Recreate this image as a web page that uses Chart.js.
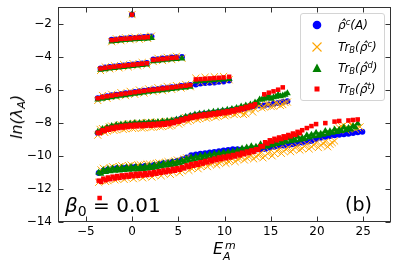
<!DOCTYPE html>
<html><head><meta charset="utf-8">
<script src="https://cdn.jsdelivr.net/npm/chart.js@4"></script>
<style>
html,body{margin:0;padding:0;background:#fff;}
#wrap{position:relative;width:398px;height:269px;font-family:"DejaVu Sans",sans-serif;overflow:hidden;}
#c{position:absolute;left:0;top:0;width:398px;height:269px;}
.ov{position:absolute;white-space:nowrap;color:#000;font-family:"DejaVu Sans",sans-serif;}
sup,sub{font-size:0.7em;line-height:0;}
sup{vertical-align:0.5em;} sub{vertical-align:-0.25em;}
#legend{position:absolute;left:300px;top:13px;width:85px;height:88px;border:1px solid #d4d4d4;border-radius:3px;background:rgba(255,255,255,0.8);box-sizing:border-box;}
.row{position:absolute;left:0;width:84px;height:20px;}
.mk{position:absolute;left:10px;top:4px;width:12px;height:12px;}
.lt{position:absolute;left:37px;top:0px;font-style:italic;font-size:12px;line-height:20px;font-family:"DejaVu Sans",sans-serif;white-space:nowrap;}
</style></head>
<body>
<div id="wrap">
<canvas id="c" width="398" height="269"></canvas>
<div id="legend">
 <div class="row" style="top:1px"><svg class="mk" viewBox="0 0 12 12"><circle cx="6" cy="6" r="4.3" fill="#0000ff"/></svg><span class="lt">ρ̂<sup>c</sup>(A)</span></div>
 <div class="row" style="top:23px"><svg class="mk" viewBox="0 0 12 12"><path d="M1.5 1.5L10.5 10.5M10.5 1.5L1.5 10.5" stroke="#ffa500" stroke-width="1.1"/></svg><span class="lt">Tr<sub>B</sub>(ρ̂<sup>c</sup>)</span></div>
 <div class="row" style="top:44px"><svg class="mk" viewBox="0 0 12 12"><polygon points="6,1.5 10.5,10 1.5,10" fill="#008000"/></svg><span class="lt">Tr<sub>B</sub>(ρ̂<sup>d</sup>)</span></div>
 <div class="row" style="top:65px"><svg class="mk" viewBox="0 0 12 12"><rect x="3.5" y="3.5" width="5" height="5" fill="#ff0000"/></svg><span class="lt">Tr<sub>B</sub>(ρ̂<sup>t</sup>)</span></div>
</div>
<div class="ov" style="left:65px;top:195px;font-size:20px;line-height:20px;"><i>β</i><sub style="font-size:0.7em">0</sub> = 0.01</div>
<div class="ov" style="left:345px;top:195px;font-size:19px;line-height:19px;">(b)</div>
<div class="ov" style="left:213px;top:241px;font-size:16px;line-height:16px;font-style:italic;">E</div>
<div class="ov" style="left:225px;top:240px;font-size:11px;line-height:11px;font-style:italic;">m</div>
<div class="ov" style="left:223px;top:251px;font-size:11px;line-height:11px;font-style:italic;">A</div>
<div class="ov" style="left:17px;top:117px;font-size:16px;line-height:16px;font-style:italic;transform:translate(-50%,-50%) rotate(-90deg);">ln(λ<sub>A</sub>)</div>
</div>
<script>
// ---- data ----
const band0X = [0];
const band0Y = [-1.46];

const band1X = [-2.2,-1.7,-1.2,-0.7,-0.2,0.3,0.8,1.3,1.7,2.1];
const b1Blue = [-2.98,-2.97,-2.92,-2.90,-2.88,-2.88,-2.84,-2.82,-2.80,-2.79];
const b1Orange = [-3.10,-2.92,-3.04,-2.86,-2.98,-2.82,-2.95,-2.80,-2.90,-2.76];
const b1Green = [-3.08,-3.05,-3.02,-3.00,-2.98,-2.95,-2.93,-2.92,-2.90,-2.88];
const b1Red = [-3.00,-2.97,-2.93,-2.92,-2.90,-2.87,-2.85,-2.84,-2.82,null];

const band2X = [-3.4,-2.9,-2.4,-1.9,-1.4,-0.9,-0.4,0.1,0.6,1.1,1.6,2.3,2.8,3.3,3.8,4.3,4.8,5.4];
const b2Blue = [-4.72,-4.66,-4.63,-4.60,-4.56,-4.54,-4.50,-4.48,-4.44,-4.42,-4.38,-4.18,-4.16,-4.12,-4.10,-4.06,-4.04,-4.02];
const b2Orange = [-4.84,-4.62,-4.74,-4.55,-4.68,-4.48,-4.62,-4.42,-4.56,-4.36,-4.50,-4.30,-4.10,-4.24,-4.04,-4.18,-3.98,-4.10];
const b2Green = [-4.80,-4.76,-4.72,-4.69,-4.66,-4.63,-4.60,-4.57,-4.54,-4.51,-4.48,-4.28,-4.25,-4.22,-4.19,-4.16,-4.14,-4.12];
const b2Red = [-4.72,-4.68,-4.64,-4.61,-4.58,-4.55,-4.52,-4.49,-4.46,-4.43,-4.40,-4.20,-4.17,-4.14,-4.11,-4.08,-4.06,null];

const band3X = [-3.7,-3.2,-2.7,-2.2,-1.7,-1.2,-0.7,-0.2,0.3,0.8,1.3,1.8,2.3,2.8,3.3,3.8,4.3,4.8,5.3,5.8,6.3,6.9,7.4,7.9,8.4,8.9,9.4,9.9,10.5];
const b3Blue = [-6.52,-6.44,-6.40,-6.34,-6.30,-6.26,-6.22,-6.18,-6.14,-6.10,-6.06,-6.02,-5.99,-5.96,-5.92,-5.88,-5.85,-5.82,-5.78,-5.75,-5.72,-5.68,-5.62,-5.60,-5.58,-5.56,-5.52,-5.50,-5.45];
const b3Orange = [-6.65,-6.35,-6.52,-6.28,-6.42,-6.18,-6.36,-6.10,-6.28,-6.02,-6.20,-5.95,-6.12,-5.88,-6.06,-5.80,-5.98,-5.75,-5.90,-5.68,-5.82,-5.30,-5.55,-5.25,-5.50,-5.22,-5.46,-5.20,-5.40];
const b3Green = [-6.60,-6.55,-6.50,-6.46,-6.41,-6.37,-6.33,-6.29,-6.25,-6.21,-6.17,-6.13,-6.10,-6.07,-6.03,-6.00,-5.96,-5.93,-5.89,-5.86,-5.82,-5.50,-5.48,-5.46,-5.44,-5.42,-5.40,-5.38,-5.35];
const b3Red = [-6.52,-6.45,-6.40,-6.36,-6.31,-6.27,-6.23,-6.19,-6.15,-6.11,-6.07,-6.03,-6.00,-5.97,-5.93,-5.90,-5.86,-5.83,-5.79,-5.76,-5.72,-5.38,-5.36,-5.34,-5.32,-5.30,-5.28,-5.26,-5.22];

const band4X = [-3.7,-3.2,-2.7,-2.2,-1.7,-1.2,-0.7,-0.2,0.3,0.8,1.3,1.8,2.3,2.8,3.3,3.8,4.3,4.8,5.3,5.8,6.3,6.8,7.3,7.8,8.3,8.8,9.3,9.8,10.3,10.8,11.3,11.8,12.3,12.8,13.3,13.8,14.3,14.8,15.3,15.8,16.3,16.8];
const b4Blue = [-8.62,-8.43,-8.32,-8.26,-8.20,-8.16,-8.14,-8.10,-8.08,-8.06,-8.05,-8.03,-8.02,-8.00,-7.98,-7.95,-7.91,-7.84,-7.76,-7.68,-7.60,-7.55,-7.50,-7.46,-7.43,-7.39,-7.35,-7.31,-7.27,-7.22,-7.20,-7.18,-7.12,-7.06,-7.00,-6.95,-6.95,-6.90,-6.85,-6.80,-6.75,-6.70];
const b4Orange = [-8.75,-8.35,-8.50,-8.20,-8.42,-8.12,-8.36,-8.06,-8.32,-8.02,-8.30,-7.98,-8.26,-7.96,-8.22,-7.92,-8.16,-7.86,-8.00,-7.68,-7.85,-7.68,-7.75,-7.62,-7.68,-7.55,-7.60,-7.48,-7.52,-7.38,-7.45,-7.30,-7.45,-7.10,-7.15,-6.95,-7.05,-6.88,-7.00,-6.85,-6.90,-6.75];
const b4Green = [-8.55,-8.38,-8.28,-8.20,-8.14,-8.10,-8.07,-8.04,-8.02,-8.01,-8.00,-7.98,-7.97,-7.95,-7.93,-7.90,-7.86,-7.80,-7.72,-7.64,-7.57,-7.50,-7.46,-7.42,-7.38,-7.34,-7.30,-7.26,-7.22,-7.16,-7.10,-7.02,-6.95,-6.90,-6.78,-6.60,-6.55,-6.40,-6.45,-6.30,-6.35,-6.22];
const b4Red = [-8.60,-8.45,-8.35,-8.29,-8.24,-8.20,-8.17,-8.14,-8.12,-8.11,-8.10,-8.08,-8.07,-8.05,-8.03,-8.00,-7.96,-7.88,-7.80,-7.72,-7.64,-7.58,-7.53,-7.49,-7.46,-7.42,-7.38,-7.34,-7.30,-7.25,-7.18,-7.12,-7.04,-6.96,-6.88,null,-6.28,-6.18,-6.10,-6.00,-5.86,null];
// second row of states in band 4 (in between and just below the first row)
const band4XB = [-3.45,-2.95,-2.45,-1.95,-1.45,-0.95,-0.45,0.05,0.55,1.05,1.55,2.05,2.55,3.05,3.55,4.05,4.55,5.05,5.55,6.05,6.55,7.05,7.55,8.05,8.55,9.05,9.55,10.05,10.55,11.05,11.55,12.05,12.55,13.05,13.55,14.05,14.55,15.05,15.55,16.05,16.55];
const b4OrangeB = [-8.40,-8.58,-8.25,-8.46,-8.15,-8.40,-8.08,-8.34,-8.04,-8.32,-8.00,-8.28,-7.98,-8.24,-7.94,-8.20,-7.90,-8.08,-7.80,-7.92,-7.66,-7.80,-7.60,-7.72,-7.55,-7.65,-7.48,-7.58,-7.42,-7.50,-7.30,-7.50,-7.20,-7.35,-6.90,-7.10,-6.85,-7.02,-6.80,-6.95,-6.78];
const b4GreenB = [-8.57,-8.43,-8.34,-8.27,-8.22,-8.19,-8.16,-8.13,-8.12,-8.11,-8.09,-8.08,-8.06,-8.04,-8.02,-7.98,-7.93,-7.86,-7.78,-7.71,-7.64,-7.58,-7.54,-7.50,-7.46,-7.42,-7.38,-7.34,-7.29,-7.23,-7.16,-7.09,-7.03,-6.94,-6.79,-6.60,-6.50,-6.55,-6.42,-6.40,-6.30];
const b4RedB = [-8.62,-8.50,-8.42,-8.37,-8.32,-8.29,-8.26,-8.23,-8.22,-8.21,-8.19,-8.18,-8.16,-8.14,-8.12,-8.08,-8.02,-7.94,-7.86,-7.78,-7.71,-7.66,-7.61,-7.58,-7.54,-7.50,-7.46,-7.42,-7.38,-7.32,-7.25,-7.18,-7.10,-7.02,null,null,null,null,null,null,null];

const band5X = [-3.6,-3.1,-2.6,-2.1,-1.6,-1.1,-0.6,-0.1,0.4,0.9,1.4,1.9,2.4,2.9,3.4,3.9,4.4,4.9,5.4,5.9,6.4,6.9,7.4,7.9,8.4,8.9,9.4,9.9,10.4,10.9,11.4,11.9,12.4,12.9,13.4,13.9,14.4,14.9,15.4,15.9,16.4,16.9,17.4,17.9,18.4,18.9,19.4,19.9,20.4,20.9,21.4,21.9,22.4,22.9,23.4,23.9,24.4,24.9];
const b5Blue = [-11.04,-10.90,-10.82,-10.78,-10.74,-10.72,-10.70,-10.68,-10.66,-10.64,-10.62,-10.60,-10.55,-10.50,-10.45,-10.40,-10.35,-10.30,-10.20,-10.10,-9.96,-9.92,-9.88,-9.84,-9.80,-9.76,-9.72,-9.68,-9.64,-9.60,-9.60,-9.62,-9.60,-9.62,-9.62,-9.60,-9.58,-9.50,-9.45,-9.40,-9.38,-9.35,-9.30,-9.25,-9.20,-9.15,-9.10,-9.00,-8.90,-8.85,-8.80,-8.76,-8.72,-8.70,-8.66,-8.62,-8.58,-8.55];
const b5Orange = [-11.60,-10.75,-11.50,-10.66,-11.40,-10.60,-11.33,-10.56,-11.28,-10.54,-11.22,-10.50,-11.15,-10.42,-11.06,-10.35,-10.98,-10.25,-10.90,-10.12,-10.75,-10.55,-10.62,-10.45,-10.50,-10.35,-10.42,-10.25,-10.32,-10.15,-10.20,-10.05,-10.12,-9.95,-10.05,-9.85,-10.00,-9.75,-9.85,-9.60,-9.72,-9.50,-9.62,-9.40,-9.55,-9.30,-9.45,-9.20,-9.35,-9.15,-9.30,-9.10,-8.30,-8.15,-8.35,-8.20,-8.30,null];
const b5Green = [-11.00,-10.86,-10.80,-10.76,-10.74,-10.72,-10.70,-10.68,-10.67,-10.66,-10.64,-10.61,-10.57,-10.52,-10.47,-10.43,-10.39,-10.35,-10.28,-10.18,-10.10,-10.05,-10.00,-9.96,-9.92,-9.88,-9.84,-9.80,-9.77,-9.74,-9.66,-9.55,-9.50,-9.42,-9.45,-9.30,-9.35,-9.22,-9.20,-9.08,-9.05,-8.95,-8.98,-8.85,-8.90,-8.75,-8.72,-8.60,-8.66,-8.50,-8.52,-8.40,-8.42,-8.28,-8.32,-8.20,-8.05,null];
const b5Red = [-11.50,-11.38,-11.31,-11.26,-11.22,-11.18,-11.15,-11.12,-11.09,-11.07,-11.05,-11.02,-10.98,-10.93,-10.88,-10.84,-10.79,-10.75,-10.68,-10.58,-10.50,-10.45,-10.38,-10.31,-10.24,-10.17,-10.10,-10.05,-10.00,-9.95,-9.88,-9.81,-9.74,-9.67,-9.60,-9.42,-9.18,-9.06,-8.97,-8.89,-8.82,-8.74,-8.65,-8.55,-8.45,-8.32,-8.20,-8.08,null,-8.02,null,-7.93,-7.89,null,-7.86,-7.83,-7.80,null];
// second row of states in band 5
const band5XB = [-3.35,-2.85,-2.35,-1.85,-1.35,-0.85,-0.35,0.15,0.65,1.15,1.65,2.15,2.65,3.15,3.65,4.15,4.65,5.15,5.65,6.15,6.65,7.15,7.65,8.15,8.65,9.15,9.65,10.15,10.65,11.15,11.65,12.15,12.65,13.15,13.65,14.15,14.65,15.15,15.65,16.15,16.65,17.15,17.65,18.15,18.65,19.15,19.65,20.15,20.65,21.15,21.65,22.15,22.65,23.15,23.65,24.15,24.65];
const b5OrangeB = [-10.85,-11.55,-10.72,-11.45,-10.65,-11.42,-10.60,-11.38,-10.55,-11.33,-10.50,-11.28,-10.45,-11.20,-10.40,-11.12,-10.32,-11.02,-10.20,-10.88,-10.70,-10.78,-10.58,-10.65,-10.45,-10.55,-10.35,-10.45,-10.28,-10.35,-10.15,-10.25,-10.05,-10.18,-9.95,-10.12,-9.85,-10.00,-9.70,-9.85,-9.60,-9.75,-9.50,-9.65,-9.42,-9.58,-9.35,-9.50,-9.25,-9.45,-9.20,-8.40,-8.22,-8.45,-8.12,-8.38,-8.25];
const b5GreenB = [-11.08,-10.98,-10.93,-10.90,-10.88,-10.86,-10.84,-10.83,-10.82,-10.80,-10.78,-10.74,-10.70,-10.65,-10.60,-10.56,-10.52,-10.47,-10.38,-10.29,-10.23,-10.18,-10.13,-10.09,-10.05,-10.01,-9.97,-9.94,-9.91,-9.85,-9.76,-9.68,-9.61,-9.59,-9.53,-9.48,-9.44,-9.36,-9.29,-9.22,-9.15,-9.12,-9.07,-9.03,-8.98,-8.89,-8.81,-8.78,-8.73,-8.66,-8.61,-8.56,-8.50,-8.45,-8.41,-8.28,null];
const b5RedB = [-11.57,-11.47,-11.41,-11.37,-11.33,-11.29,-11.26,-11.23,-11.21,-11.19,-11.16,-11.13,-11.08,-11.03,-10.99,-10.94,-10.90,-10.84,-10.76,-10.67,-10.60,-10.54,-10.47,-10.40,-10.33,-10.26,-10.20,-10.15,-10.10,-10.04,-9.97,-9.90,-9.83,-9.76,-9.64,-9.43,-9.25,-9.14,-9.06,-8.98,-8.91,-8.82,-8.73,-8.63,null,null,null,null,null,null,null,null,null,null,null,null,null];

const redOutlierX = [-3.5];
const redOutlierY = [-12.55];

const seriesLabels = ['ρ̂c(A)','TrB(ρ̂c)','TrB(ρ̂d)','TrB(ρ̂t)'];
const xTickStep = 5, yTickStep = 2;

// ---- build ----
function pts(xs, ys){ const o=[]; xs.forEach((x,i)=>{ const y=ys[i]; if(y!==null && y!==undefined) o.push({x:x,y:y}); }); return o; }
const blueData = [].concat(pts(band0X,band0Y),pts(band1X,b1Blue),pts(band2X,b2Blue),pts(band3X,b3Blue),pts(band4X,b4Blue),pts(band5X,b5Blue));
const orangeData = [].concat(pts(band0X,band0Y),pts(band1X,b1Orange),pts(band2X,b2Orange),pts(band3X,b3Orange),pts(band4X,b4Orange),pts(band4XB,b4OrangeB),pts(band5X,b5Orange),pts(band5XB,b5OrangeB));
const greenData = [].concat(pts(band0X,band0Y),pts(band1X,b1Green),pts(band2X,b2Green),pts(band3X,b3Green),pts(band4X,b4Green),pts(band4XB,b4GreenB),pts(band5X,b5Green),pts(band5XB,b5GreenB));
const redData = [].concat(pts(band0X,band0Y),pts(band1X,b1Red),pts(band2X,b2Red),pts(band3X,b3Red),pts(band4X,b4Red),pts(band4XB,b4RedB),pts(band5X,b5Red),pts(band5XB,b5RedB),pts(redOutlierX,redOutlierY));

const frameTicks = {
  id:'frameTicks',
  afterDraw(chart){
    const {ctx, chartArea:a, scales} = chart;
    const L=Math.round(a.left)+0.5, R=Math.round(a.right)-0.5, T=Math.round(a.top)+0.5, B=Math.round(a.bottom)-0.5;
    ctx.save();
    ctx.strokeStyle='#333'; ctx.lineWidth=1;
    ctx.beginPath();
    scales.x.ticks.forEach(t=>{ const p=Math.round(scales.x.getPixelForValue(t.value))+0.5; ctx.moveTo(p,B); ctx.lineTo(p,B-5); ctx.moveTo(p,T); ctx.lineTo(p,T+5); });
    scales.y.ticks.forEach(t=>{ const p=Math.round(scales.y.getPixelForValue(t.value))+0.5; ctx.moveTo(L,p); ctx.lineTo(L+5,p); ctx.moveTo(R,p); ctx.lineTo(R-5,p); });
    ctx.stroke();
    ctx.strokeRect(L,T,R-L,B-T);
    ctx.restore();
  }
};

const minus = v => String(v).replace('-','\u2212');

new Chart(document.getElementById('c'), {
  type:'scatter',
  data:{ datasets:[
    {label:seriesLabels[0], data:blueData, order:4, pointStyle:'circle', pointRadius:3, backgroundColor:'#0000ff', borderColor:'#0000ff', pointBorderWidth:0},
    {label:seriesLabels[1], data:orangeData, order:3, pointStyle:'crossRot', pointRadius:5, backgroundColor:'#ffa500', borderColor:'#ffa500', pointBorderWidth:1},
    {label:seriesLabels[2], data:greenData, order:2, pointStyle:'triangle', pointRadius:4, backgroundColor:'#008000', borderColor:'#008000', pointBorderWidth:0},
    {label:seriesLabels[3], data:redData, order:1, pointStyle:'rect', pointRadius:3.2, backgroundColor:'#ff0000', borderColor:'#ff0000', pointBorderWidth:0}
  ]},
  options:{
    responsive:false, devicePixelRatio:1, animation:false, events:[],
    layout:{padding:{top:7,right:7,left:0,bottom:0}},
    plugins:{legend:{display:false}, tooltip:{enabled:false}},
    scales:{
      x:{type:'linear', min:-8, max:28,
         grid:{display:false, drawTicks:false}, border:{display:false},
         ticks:{stepSize:xTickStep, includeBounds:false, padding:3, maxRotation:0, autoSkip:false, color:'#000', font:{family:'DejaVu Sans', size:12}, callback:minus},
         afterFit(s){ s.height = 47; s.paddingLeft = 0; s.paddingRight = 0; }},
      y:{type:'linear', min:-14, max:-1,
         grid:{display:false, drawTicks:false}, border:{display:false},
         ticks:{stepSize:yTickStep, includeBounds:false, padding:6, autoSkip:false, color:'#000', font:{family:'DejaVu Sans', size:12}, callback:minus},
         afterFit(s){ s.width = 58; s.paddingTop = 0; s.paddingBottom = 0; }}
    }
  },
  plugins:[frameTicks]
});
</script>
</body></html>
